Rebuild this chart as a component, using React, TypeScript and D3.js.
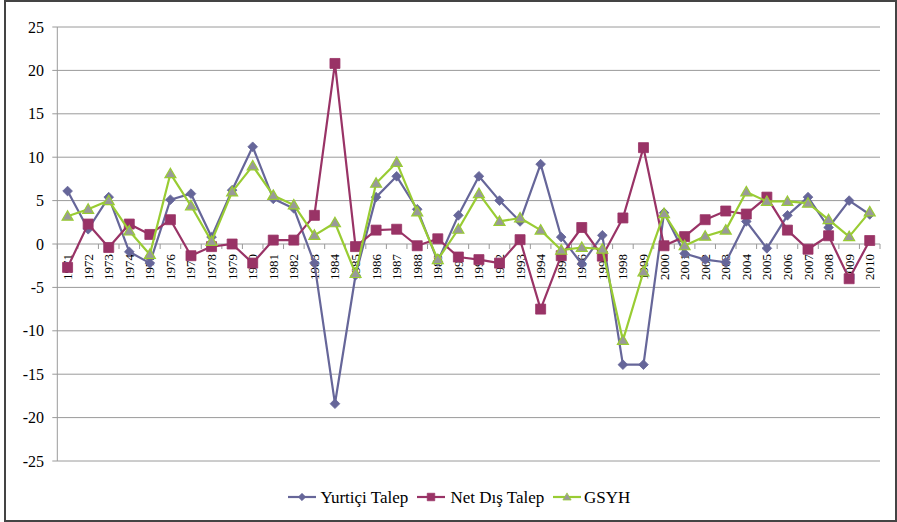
import React from "react";
import * as d3 from "d3";

const years: string[] = [
  "1971","1972","1973","1974","1975","1976","1977","1978","1979","1980",
  "1981","1982","1983","1984","1985","1986","1987","1988","1989","1990",
  "1991","1992","1993","1994","1995","1996","1997","1998","1999","2000",
  "2001","2002","2003","2004","2005","2006","2007","2008","2009","2010",
];

const yurtici: number[] = [
  6.1, 1.7, 5.4, -0.9, -2.2, 5.1, 5.8, 0.8, 6.2, 11.2,
  5.2, 4.1, -2.2, -18.4, -3.6, 5.4, 7.8, 4.0, -2.0, 3.3,
  7.8, 5.0, 2.6, 9.2, 0.8, -2.3, 1.0, -13.9, -13.9, 3.6,
  -1.1, -1.8, -2.1, 2.6, -0.5, 3.3, 5.4, 1.9, 5.0, 3.4,
];

const netDis: number[] = [
  -2.7, 2.3, -0.4, 2.3, 1.1, 2.8, -1.35, -0.3, 0.0, -2.2,
  0.45, 0.45, 3.3, 20.8, -0.3, 1.6, 1.7, -0.2, 0.6, -1.5,
  -1.8, -2.2, 0.5, -7.5, -1.35, 1.9, -1.4, 3.0, 11.1, -0.2,
  0.85, 2.8, 3.8, 3.45, 5.4, 1.6, -0.6, 0.95, -4.0, 0.4,
];

const gsyh: number[] = [
  3.2, 4.0, 5.0, 1.5, -1.2, 8.1, 4.4, 0.3, 6.0, 9.0,
  5.6, 4.5, 1.0, 2.45, -3.4, 7.0, 9.4, 3.7, -1.8, 1.7,
  5.8, 2.6, 3.0, 1.6, -0.7, -0.4, -0.6, -11.1, -3.2, 3.5,
  -0.2, 0.9, 1.6, 6.0, 4.9, 4.9, 4.7, 2.8, 0.85, 3.7,
];

const yTicks: number[] = [25, 20, 15, 10, 5, 0, -5, -10, -15, -20, -25];
const seriesNames: string[] = ["Yurtiçi Talep", "Net Dış Talep", "GSYH"];

const W = 897;
const H = 522;

type Marker = "diamond" | "square" | "triangle";

const series: { name: string; values: number[]; color: string; fill: string; marker: Marker }[] = [
  { name: seriesNames[0], values: yurtici, color: "#666699", fill: "#666699", marker: "diamond" },
  { name: seriesNames[1], values: netDis, color: "#993366", fill: "#993366", marker: "square" },
  { name: seriesNames[2], values: gsyh, color: "#99CC33", fill: "#999999", marker: "triangle" },
];

function markerPath(kind: Marker): string {
  if (kind === "diamond") return d3.symbol(d3.symbolDiamond2, 60)() as string;
  if (kind === "square") return "M-5,-5L5,-5L5,5L-5,5Z";
  return "M0,-5.5L5.5,4L-5.5,4Z";
}

export default function App() {
  const left = 57.3;
  const right = 880;
  const top = 27;
  const bottom = 461;

  const x = d3.scaleBand<string>().domain(years).range([left, right]);
  const y = d3.scaleLinear().domain([-25, 25]).range([bottom, top]);
  const cx = (yr: string) => (x(yr) as number) + x.bandwidth() / 2;

  const line = d3
    .line<number>()
    .x((_, i) => cx(years[i]))
    .y((v) => y(v));

  const legendItems = [
    { x: 288, textX: 320.5 },
    { x: 417, textX: 450.5 },
    { x: 553, textX: 584 },
  ];
  const legendY = 497;

  return (
    <svg
      className="chart"
      width={W}
      height={H}
      style={{ position: "absolute", left: 0, top: 0 }}
    >
      <style>{`svg.chart text { font-family: "Times New Roman", "Liberation Serif", Tinos, serif !important; }`}</style>
      {yTicks.map((t) => (
        <line
          key={"g" + t}
          x1={left - 5}
          x2={right}
          y1={y(t)}
          y2={y(t)}
          stroke="#9a9a9a"
          strokeWidth={1}
        />
      ))}
      <line x1={left} x2={left} y1={top} y2={bottom} stroke="#9a9a9a" strokeWidth={1} />
      {yTicks.map((t) => (
        <text
          key={"yl" + t}
          x={44}
          y={y(t) + 5.5}
          textAnchor="end"
          fontSize={16}
          style={{ fontFamily: '"Times New Roman"' }}
        >
          {t}
        </text>
      ))}
      {years.concat(["end"]).map((yr, i) => {
        const xx = i < years.length ? (x(yr) as number) : right;
        return (
          <line
            key={"xt" + i}
            x1={xx}
            x2={xx}
            y1={y(0)}
            y2={y(0) + 5}
            stroke="#9a9a9a"
            strokeWidth={1}
          />
        );
      })}
      {years.map((yr) => (
        <text
          key={"xl" + yr}
          transform={`translate(${cx(yr) + 4.5},${y(0) + 10}) rotate(-90)`}
          textAnchor="end"
          fontSize={13}
          style={{ fontFamily: '"Times New Roman"' }}
        >
          {yr}
        </text>
      ))}
      {series.map((s) => (
        <g key={s.name}>
          <path d={line(s.values) as string} fill="none" stroke={s.color} strokeWidth={2.2} strokeLinejoin="round" />
          {s.values.map((v, i) => (
            <path
              key={i}
              d={markerPath(s.marker)}
              transform={`translate(${cx(years[i])},${y(v)})`}
              fill={s.fill}
              stroke={s.color}
              strokeWidth={s.marker === "triangle" ? 1.2 : 0.8}
            />
          ))}
        </g>
      ))}
      {series.map((s, i) => (
        <g key={"lg" + s.name}>
          <line
            x1={legendItems[i].x}
            x2={legendItems[i].x + 28}
            y1={legendY}
            y2={legendY}
            stroke={s.color}
            strokeWidth={2.2}
          />
          <path
            d={markerPath(s.marker)}
            transform={`translate(${legendItems[i].x + 14},${legendY}) scale(0.75)`}
            fill={s.fill}
            stroke={s.color}
            strokeWidth={1}
          />
          <text
            x={legendItems[i].textX}
            y={legendY + 6}
            fontSize={17}
            style={{ fontFamily: '"Times New Roman"' }}
          >
            {s.name}
          </text>
        </g>
      ))}
      <rect x={5} y={1} width={891} height={520} fill="none" stroke="#444" strokeWidth={2} />
    </svg>
  );
}
